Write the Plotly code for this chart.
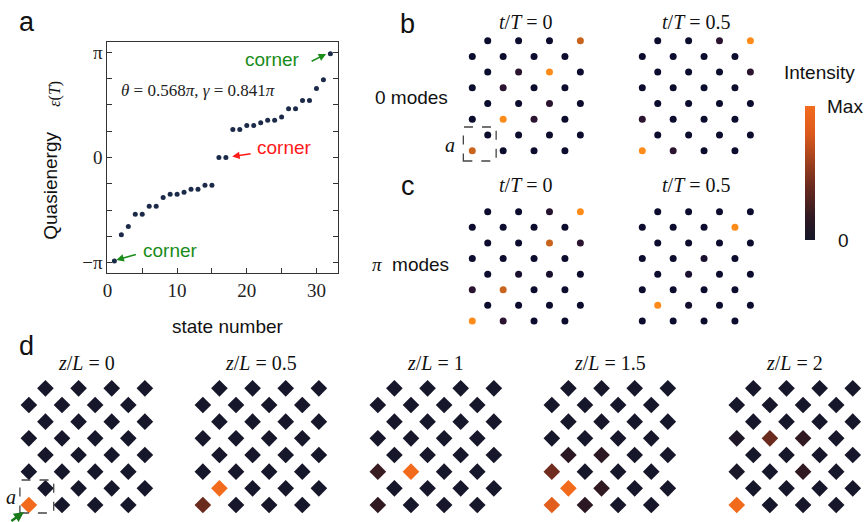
import numpy as np
import plotly.graph_objects as go

W, H = 866, 522

# ---------------- data ----------------
state_number = list(range(1, 33))
quasienergy_over_pi = [-0.983, -0.735, -0.656, -0.539, -0.539, -0.463, -0.463, -0.380,
                       -0.349, -0.349, -0.330, -0.301, -0.301, -0.263, -0.263, 0.0,
                       0.0, 0.266, 0.266, 0.304, 0.304, 0.330, 0.355, 0.355,
                       0.384, 0.463, 0.463, 0.542, 0.542, 0.656, 0.738, 0.986]

# intensities: 8 rows (top->bottom) x 4 sites per row
b_t0 = [[0, 0, 0, 0.8], [0, 0, 0, 0], [0, 0.12, 1, 0], [0, 0.12, 0, 0],
        [0, 0, 0.12, 0], [0, 1, 0.12, 0], [0, 0, 0, 0], [0.8, 0, 0, 0]]
b_t05 = [[0, 0, 0.12, 1], [0, 0, 0, 0], [0, 0, 0, 0.12], [0, 0, 0, 0],
         [0, 0, 0, 0], [0.12, 0, 0, 0], [0, 0, 0, 0], [1, 0.12, 0, 0]]
c_t0 = [[0, 0, 0.1, 1], [0, 0, 0, 0], [0, 0, 0.8, 0.12], [0, 0, 0, 0],
        [0, 0.05, 0.05, 0], [0.12, 0.8, 0, 0], [0, 0, 0, 0], [1, 0.12, 0, 0]]
c_t05 = [[0, 0, 0, 0], [0, 0, 0, 1], [0, 0, 0, 0], [0, 0, 0.06, 0],
         [0, 0.06, 0, 0], [0, 0, 0, 0], [1, 0.03, 0, 0], [0, 0, 0, 0]]

d_z0 = [[0, 0, 0, 0], [0, 0, 0, 0], [0, 0, 0, 0], [0, 0, 0, 0],
        [0, 0, 0, 0], [0, 0, 0, 0], [0, 0, 0, 0], [1, 0, 0, 0]]
d_z05 = [[0, 0, 0, 0], [0, 0, 0, 0], [0, 0, 0, 0], [0, 0, 0, 0],
         [0, 0, 0, 0], [0, 0, 0, 0], [1, 0, 0, 0], [0.4, 0, 0, 0]]
d_z1 = [[0, 0, 0, 0], [0, 0, 0, 0], [0, 0, 0, 0], [0, 0, 0, 0],
        [0, 0, 0, 0], [0.2, 1, 0, 0], [0, 0, 0, 0], [0.17, 0, 0, 0]]
d_z15 = [[0, 0, 0, 0], [0, 0, 0, 0], [0, 0, 0, 0], [0, 0, 0, 0],
         [0.15, 0.15, 0, 0], [0.42, 0, 0, 0], [1, 0.17, 0, 0], [0.85, 0.15, 0, 0]]
d_z2 = [[0, 0, 0, 0], [0, 0, 0, 0], [0, 0, 0, 0], [0.05, 0.4, 0.17, 0],
        [0, 0, 0, 0], [0.03, 0, 0.17, 0], [0, 0, 0, 0], [1, 0, 0, 0]]

time_titles = ["<i>t</i>/<i>T</i> = 0", "<i>t</i>/<i>T</i> = 0.5"]
z_titles = ["<i>z</i>/<i>L</i> = 0", "<i>z</i>/<i>L</i> = 0.5", "<i>z</i>/<i>L</i> = 1",
            "<i>z</i>/<i>L</i> = 1.5", "<i>z</i>/<i>L</i> = 2"]

# ---------------- helpers ----------------
def px(x):
    return x / W


def py(y):
    return 1 - y / H


def sites(grid):
    xs, ys, vs = [], [], []
    for r, row in enumerate(grid):
        for j, v in enumerate(row):
            col = 2 * j + 2 if r % 2 == 0 else 2 * j + 1
            xs.append(col)
            ys.append(r + 1)
            vs.append(v)
    return xs, ys, vs


SERIF = "Liberation Serif"
SANS = "Liberation Sans, Arial, sans-serif"

fig = go.Figure()
layout = dict(width=W, height=H, margin=dict(l=0, r=0, t=0, b=0),
              paper_bgcolor="white", plot_bgcolor="white", showlegend=False)

# ---------------- panel a ----------------
PI = np.pi
fig.add_trace(go.Scatter(x=state_number, y=[v * PI for v in quasienergy_over_pi],
                         mode="markers", marker=dict(size=5, color="#1b2a48"),
                         xaxis="x", yaxis="y", cliponaxis=False))
ytv = [k * PI / 4 for k in range(-4, 5)]
ytt = ["\u2212\u03c0", "", "", "", "0", "", "", "", "\u03c0"]
layout["xaxis"] = dict(domain=[px(103), px(335)], range=[0, 33.1], anchor="y",
                       showgrid=False, zeroline=False, showline=True, linecolor="#333",
                       linewidth=1, mirror=True, ticks="inside", ticklen=5,
                       tickcolor="#333", tickvals=[0, 5, 10, 15, 20, 25, 30],
                       ticktext=["0", "", "10", "", "20", "", "30"],
                       tickfont=dict(family=SERIF, size=19, color="#222"))
layout["yaxis"] = dict(domain=[py(273), py(42)], range=[-1.098 * PI, 1.098 * PI],
                       anchor="x", showgrid=False, zeroline=False, showline=True,
                       linecolor="#333", linewidth=1, mirror="allticks", ticks="inside",
                       ticklen=5, tickcolor="#333", tickvals=ytv, ticktext=ytt,
                       tickfont=dict(family=SERIF, size=19, color="#222"))

# ---------------- lattices ----------------
dot_scale = [[0, "#0c0c2e"], [0.12, "#2a1430"], [0.5, "#7a3a24"],
             [0.8, "#c8641e"], [1, "#ff8c1a"]]
dia_scale = [[0, "#16172a"], [0.15, "#2c1822"], [0.4, "#6a2a1e"],
             [0.8, "#dd5a1d"], [1, "#f26b1d"]]

axis_id = [2]


def add_lattice(grid, x1, sx, y1, sy, symbol, size, cax):
    k = axis_id[0]
    axis_id[0] += 1
    xs, ys, vs = sites(grid)
    fig.add_trace(go.Scatter(x=xs, y=ys, mode="markers", xaxis=f"x{k}", yaxis=f"y{k}",
                             cliponaxis=False,
                             marker=dict(symbol=symbol, size=size, color=vs,
                                         coloraxis=cax, line=dict(width=0))))
    layout[f"xaxis{k}"] = dict(domain=[px(x1 - 0.5 * sx), px(x1 + 7.5 * sx)],
                               range=[0.5, 8.5], anchor=f"y{k}", visible=False)
    layout[f"yaxis{k}"] = dict(domain=[py(y1 + 7.5 * sy), py(y1 - 0.5 * sy)],
                               range=[8.5, 0.5], anchor=f"x{k}", visible=False)
    return k


kb0 = add_lattice(b_t0, 470, 15.53, 40.7, 15.71, "circle", 7, "coloraxis2")
kb5 = add_lattice(b_t05, 641, 15.53, 40.7, 15.71, "circle", 7, "coloraxis2")
kc0 = add_lattice(c_t0, 470, 15.53, 211.7, 15.61, "circle", 7, "coloraxis2")
kc5 = add_lattice(c_t05, 641, 15.53, 211.7, 15.61, "circle", 7, "coloraxis2")

d_x1 = [24, 199, 375, 550, 736]
d_grids = [d_z0, d_z05, d_z1, d_z15, d_z2]
kd = []
for g, x1 in zip(d_grids, d_x1):
    kd.append(add_lattice(g, x1, 16.67, 388.3, 16.67, "diamond", 12.8, "coloraxis"))

layout["coloraxis"] = dict(cmin=0, cmax=1, colorscale=dia_scale, showscale=True,
                           colorbar=dict(x=px(805), xanchor="left", xpad=0,
                                         y=py(106), yanchor="top", ypad=0,
                                         len=134, lenmode="pixels", thickness=10,
                                         outlinewidth=0, showticklabels=False,
                                         ticks=""))
layout["coloraxis2"] = dict(cmin=0, cmax=1, colorscale=dot_scale, showscale=False)

# ---------------- annotations ----------------
ann = []


def text(x, y, s, size=19, family=SANS, color="#111", xanchor="center", **kw):
    ann.append(dict(x=px(x), y=py(y), xref="paper", yref="paper", text=s,
                    showarrow=False, xanchor=xanchor, yanchor="middle",
                    font=dict(family=family, size=size, color=color), **kw))


def arrow(xh, yh, dx, dy, color, width=1.5, head=2, hsize=1):
    ann.append(dict(x=px(xh), y=py(yh), xref="paper", yref="paper", text="",
                    showarrow=True, ax=dx, ay=dy, axref="pixel", ayref="pixel",
                    arrowcolor=color, arrowwidth=width, arrowhead=head,
                    arrowsize=hsize, standoff=0, startstandoff=0))


# panel labels
text(22, 22, "a", size=27)
text(405, 24, "b", size=27)
text(405, 186, "c", size=27)
text(22, 346, "d", size=27)

# panel a texts
text(45, 186, "Quasienergy", size=19, textangle=-90)
text(50, 94, "<i>\u03b5</i>(<i>T</i>)", size=16, family=SERIF, textangle=-90)
text(224, 326, "state number", size=19)
text(194.5, 90, "<i>\u03b8</i> = 0.568<i>\u03c0</i>, <i>\u03b3</i> = 0.841<i>\u03c0</i>",
     size=17, family=SERIF, color="#222")
GREEN = "#1a8c1a"
RED = "#ff1a1a"
text(269, 60, "corner", size=19, color=GREEN)
text(281.5, 148, "corner", size=19, color=RED)
text(166.5, 250, "corner", size=19, color=GREEN)
arrow(323, 54, -16, 8, GREEN)
arrow(228.5, 156.5, 20, -3, RED)
arrow(112, 260, 21, -6, GREEN)

# panel b/c texts
text(409, 97, "0 modes", size=19)
text(408, 264, "<span style='font-family:Liberation Serif'><i>\u03c0</i></span>  modes",
     size=19)
for xc, tt in zip((524.3, 696), time_titles):
    text(xc, 22, tt, size=20, family=SERIF)
    text(xc, 185, tt, size=20, family=SERIF)
text(448, 145, "<i>a</i>", size=20, family=SERIF)

# colorbar texts
text(819, 73, "Intensity", size=19)
text(825, 107, "Max", size=19, xanchor="left")
text(843, 240, "0", size=19)

# panel d texts
for x1, t in zip(d_x1, z_titles):
    text(x1 + 3.5 * 16.67, 363, t, size=20, family=SERIF)
text(6, 497, "<i>a</i>", size=20, family=SERIF)
arrow(19, 512, -14, 14, "#1a7a1a", width=2.5, head=2, hsize=0.8)

layout["annotations"] = ann

# dashed unit-cell boxes
layout["shapes"] = [
    dict(type="rect", xref="paper", yref="paper", x0=px(461), x1=px(494),
         y0=py(161), y1=py(127), line=dict(color="#444", width=1.3, dash="dash")),
    dict(type="rect", xref="paper", yref="paper", x0=px(15), x1=px(49),
         y0=py(513), y1=py(480), line=dict(color="#444", width=1.3, dash="dash")),
]

fig.update_layout(**layout)
fig.write_html("out.html")
